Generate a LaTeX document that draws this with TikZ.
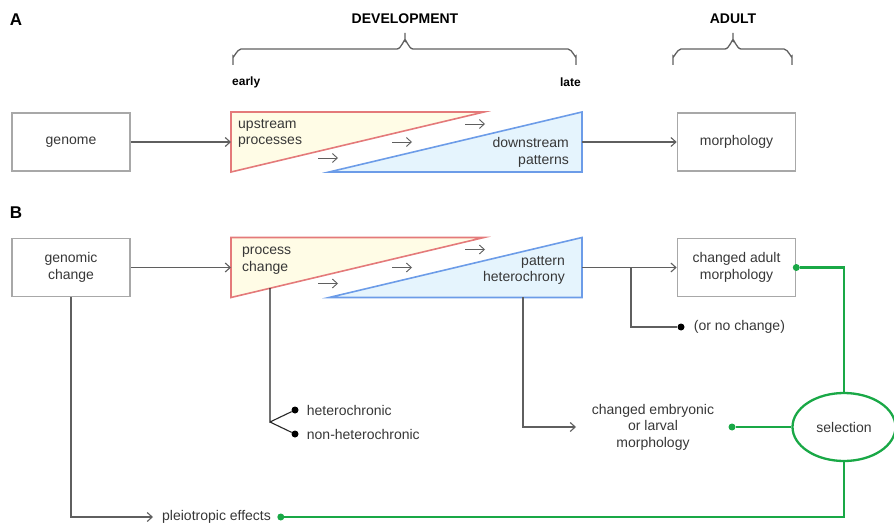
\documentclass[tikz,border=0pt]{standalone}
\usepackage{fontspec}
\setmainfont{Liberation Sans}
\usepackage{xcolor}
\usetikzlibrary{arrows.meta,positioning,shapes.geometric}

\definecolor{grisboite}{RGB}{168,168,168}
\definecolor{grisligne}{RGB}{95,95,95}
\definecolor{gristexte}{RGB}{55,55,55}
\definecolor{vertsel}{RGB}{25,168,70}
\definecolor{rougeamont}{RGB}{228,122,122}
\definecolor{fondamont}{RGB}{255,252,230}
\definecolor{bleuaval}{RGB}{108,156,232}
\definecolor{fondaval}{RGB}{229,244,253}

\newcommand{\corps}{\fontsize{14}{16.5}\selectfont}

\begin{document}
\begin{tikzpicture}[x=1pt, y=-1pt,
  >={Straight Barb[length=5pt,width=9pt]},
  boite/.style={draw=grisboite, line width=1.6pt, minimum width=118pt,
    minimum height=58pt, inner sep=0pt, align=center, text=gristexte, font=\corps},
  etiq/.style={text=gristexte, font=\corps, inner sep=1pt},
  titre/.style={font=\fontsize{14}{16}\selectfont\bfseries},
  temps/.style={font=\fontsize{12}{14}\selectfont\bfseries, inner sep=0pt},
  panneau/.style={font=\fontsize{17}{18}\selectfont\bfseries},
  fleche/.style={draw=grisligne, line width=1.1pt, ->},
  trait/.style={draw=black!85, line width=1.1pt},
  accolade/.style={draw=grisligne, line width=1.3pt},
  amont/.style={draw=rougeamont, fill=fondamont, line width=1.6pt},
  aval/.style={draw=bleuaval, fill=fondaval, line width=1.6pt},
  point/.style={circle, fill=black, inner sep=0pt, minimum size=7pt},
  pointvert/.style={circle, fill=vertsel, inner sep=0pt, minimum size=7pt},
  lienvert/.style={draw=vertsel, line width=2.3pt},
  selection/.style={ellipse, draw=vertsel, line width=2.3pt, minimum width=103pt,
    minimum height=68pt, text=gristexte, font=\corps}]

  \useasboundingbox (0,0) rectangle (894,524);

  % Titres et accolades
  \node[panneau] (pA) at (16,20) {A};
  \node[panneau] (pB) at (16,213) {B};
  \node[titre] (devel) at (405,19) {DEVELOPMENT};
  \node[titre] (adulte) at (733,19) {ADULT};
  \node[temps, anchor=west] (tot) at (232,82) {early};
  \node[temps, anchor=east] (tard) at (581,82) {late};
  \draw[accolade] (233,65) -- (233,56) to[out=-90,in=180] (241,49) -- (397,49)
    to[out=0,in=90] (405,41) -- (405,33) (405,41) to[out=90,in=180] (413,49)
    -- (568,49) to[out=0,in=-90] (576,56) -- (576,65);
  \draw[accolade] (673,65) -- (673,56) to[out=-90,in=180] (681,49) -- (725,49)
    to[out=0,in=90] (733,41) -- (733,33) (733,41) to[out=90,in=180] (741,49)
    -- (784,49) to[out=0,in=-90] (792,56) -- (792,65);

  % Triangles du developpement (A et B)
  \foreach \d in {0,125.5} {
    \draw[amont] (231,112+\d) -- (484,112+\d) -- (231,172+\d) -- cycle;
    \draw[aval] (329,172+\d) -- (582,172+\d) -- (582,112+\d) -- cycle;
    \foreach \x/\y in {318/158,392/142,465/124} {
      \draw[fleche, line width=0.9pt] (\x,\y+\d) -- (\x+20,\y+\d);
    }
  }

  % Panneau A
  \node[boite] (genome) at (71,142) {genome};
  \node[boite] (morpho) at (736.5,142) {morphology};
  \node[etiq, anchor=west, align=left] (amontA) at (237,133.5) {upstream\\processes};
  \node[etiq, anchor=east, align=right] (avalA) at (570,152.5) {downstream\\patterns};
  \coordinate (entreeA) at (231,142);
  \coordinate (sortieA) at (582,142);
  \draw[fleche] (genome) -- (entreeA);
  \draw[fleche] (sortieA) -- (morpho);

  % Panneau B
  \node[boite] (genchg) at (71,267.5) {genomic\\change};
  \node[boite] (adultchg) at (736.5,267.5) {changed adult\\morphology};
  \node[etiq, anchor=west, align=left] (procB) at (241,260.5) {process\\change};
  \node[etiq, anchor=east, align=right] (patB) at (566,270.5) {pattern\\heterochrony};
  \coordinate (entreeB) at (231,267.5);
  \coordinate (sortieB) at (582,267.5);
  \coordinate (branche) at (631,267.5);
  \draw[fleche] (genchg) -- (entreeB);
  \draw[fleche] (sortieB) -- (adultchg);

  % Pas de changement
  \node[point] (pnochg) at (681,327) {};
  \node[etiq, right=8pt of pnochg] (nochg) {(or no change)};
  \draw[fleche, -] (branche) |- (pnochg);

  % Heterochronie ou non
  \coordinate (procbas) at (270,288);
  \coordinate (fourche) at (270,422);
  \node[point] (phet) at (295,410) {};
  \node[point] (pnonhet) at (295,434) {};
  \node[etiq, right=7pt of phet] (het) {heterochronic};
  \node[etiq, right=7pt of pnonhet] (nonhet) {non-heterochronic};
  \draw[trait] (procbas) -- (fourche) -- (phet);
  \draw[trait] (fourche) -- (pnonhet);

  % Morphologie embryonnaire
  \coordinate (patbas) at (523,297);
  \coordinate (entreeemb) at (576,427);
  \node[etiq, align=center] (embryo) at (653,427) {changed embryonic\\or larval\\morphology};
  \draw[fleche] (patbas) |- (entreeemb);

  % Effets pleiotropes
  \node[etiq, anchor=west] (pleio) at (161,517) {pleiotropic effects};
  \node[pointvert, right=5pt of pleio] (ppleio) {};
  \draw[fleche] (genchg) |- ([xshift=-8pt]pleio.west);

  % Selection
  \node[selection] (sel) at (844,427) {selection};
  \node[pointvert] (pemb) at (732,427) {};
  \node[pointvert] (padult) at (adultchg.east) {};
  \draw[lienvert] (pemb) -- (sel);
  \draw[lienvert] (padult) -| (sel.north);
  \draw[lienvert] (ppleio) -| (sel.south);
\end{tikzpicture}
\end{document}
